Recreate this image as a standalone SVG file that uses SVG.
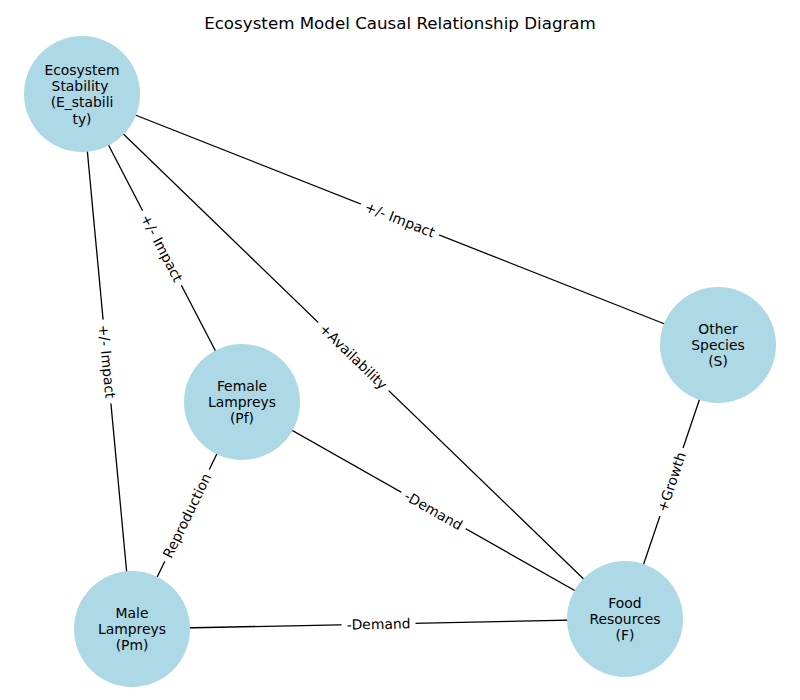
<svg xmlns="http://www.w3.org/2000/svg" width="800" height="700" viewBox="0 0 800 700">
<style>
text{font-family:"DejaVu Sans","Liberation Sans",sans-serif;fill:#000}
.title{font-size:16.7px}
.nl{font-size:13.9px;text-anchor:middle;dominant-baseline:central}
.el{font-size:13.9px;text-anchor:middle;dominant-baseline:central}
.node{fill:#ADD8E6}
.edge{stroke:#000;stroke-width:1.3;fill:none}
.lb{fill:#fff}
</style>
<rect width="800" height="700" fill="#fff"/>
<text class="title" x="400" y="29" text-anchor="middle">Ecosystem Model Causal Relationship Diagram</text>
<g id="connectors">
<line class="edge" x1="82" y1="94" x2="718" y2="345"/>
<line class="edge" x1="82" y1="94" x2="242" y2="402"/>
<line class="edge" x1="82" y1="94" x2="132" y2="629"/>
<line class="edge" x1="82" y1="94" x2="625" y2="619"/>
<line class="edge" x1="242" y1="402" x2="625" y2="619"/>
<line class="edge" x1="132" y1="629" x2="625" y2="619"/>
<line class="edge" x1="132" y1="629" x2="242" y2="402"/>
<line class="edge" x1="625" y1="619" x2="718" y2="345"/>
<g transform="translate(400,219.5) rotate(21.5)"><rect class="lb" x="-42" y="-11" width="84" height="22" rx="4"/><text class="el">+/- Impact</text></g>
<g transform="translate(162,248) rotate(62.5)"><rect class="lb" x="-42" y="-11" width="84" height="22" rx="4"/><text class="el">+/- Impact</text></g>
<g transform="translate(107,361.5) rotate(84.7)"><rect class="lb" x="-42" y="-11" width="84" height="22" rx="4"/><text class="el">+/- Impact</text></g>
<g transform="translate(353.5,356.5) rotate(44)"><rect class="lb" x="-49" y="-11" width="98" height="22" rx="4"/><text class="el">+Availability</text></g>
<g transform="translate(433.5,510.5) rotate(29.5)"><rect class="lb" x="-37" y="-11" width="74" height="22" rx="4"/><text class="el">-Demand</text></g>
<g transform="translate(378.5,624) rotate(-1.2)"><rect class="lb" x="-37" y="-11" width="74" height="22" rx="4"/><text class="el">-Demand</text></g>
<g transform="translate(187,515.5) rotate(-64.1)"><rect class="lb" x="-51" y="-11" width="102" height="22" rx="4"/><text class="el">Reproduction</text></g>
<g transform="translate(671.5,482) rotate(-71.3)"><rect class="lb" x="-36" y="-11" width="72" height="22" rx="4"/><text class="el">+Growth</text></g>
</g>
<g id="node-E">
<circle class="node" cx="82" cy="94" r="58"/>
<text class="nl" x="82" y="69.5">Ecosystem</text>
<text class="nl" x="80" y="85.8">Stability</text>
<text class="nl" x="82" y="102.2">(E_stabili</text>
<text class="nl" x="82" y="118.5">ty)</text>
</g>
<g id="node-S">
<circle class="node" cx="718" cy="345" r="58"/>
<text class="nl" x="718" y="328.7">Other</text>
<text class="nl" x="718" y="345">Species</text>
<text class="nl" x="718" y="361.3">(S)</text>
</g>
<g id="node-Pf">
<circle class="node" cx="242" cy="402" r="58"/>
<text class="nl" x="242" y="385.7">Female</text>
<text class="nl" x="242" y="402">Lampreys</text>
<text class="nl" x="242" y="418.3">(Pf)</text>
</g>
<g id="node-Pm">
<circle class="node" cx="132" cy="629" r="58"/>
<text class="nl" x="132" y="612.7">Male</text>
<text class="nl" x="132" y="629">Lampreys</text>
<text class="nl" x="132" y="645.3">(Pm)</text>
</g>
<g id="node-F">
<circle class="node" cx="625" cy="619" r="58"/>
<text class="nl" x="625" y="602.7">Food</text>
<text class="nl" x="625" y="619">Resources</text>
<text class="nl" x="625" y="635.3">(F)</text>
</g>
</svg>
